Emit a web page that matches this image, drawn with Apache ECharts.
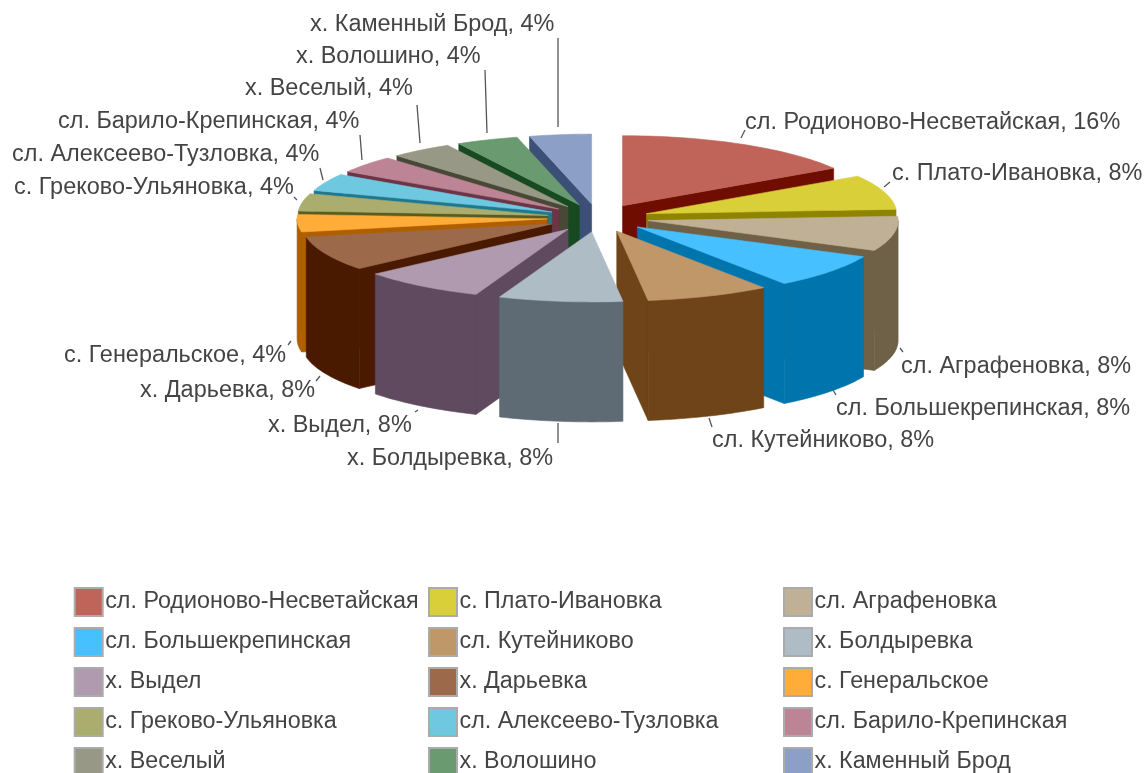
<!DOCTYPE html>
<html>
<head>
<meta charset="utf-8">
<style>html,body{margin:0;padding:0;background:#fff;overflow:hidden}#c{width:1145px;height:773px}</style>
<script src="https://cdn.jsdelivr.net/npm/echarts@6/dist/echarts.min.js"></script>
</head>
<body>
<div id="c"></div>
<script>
// --- data ---
const categories = ['сл. Родионово-Несветайская','с. Плато-Ивановка','сл. Аграфеновка','сл. Большекрепинская','сл. Кутейниково','х. Болдыревка','х. Выдел','х. Дарьевка','с. Генеральское','с. Греково-Ульяновка','сл. Алексеево-Тузловка','сл. Барило-Крепинская','х. Веселый','х. Волошино','х. Каменный Брод'];
const shares = [16,8,8,8,8,8,8,8,4,4,4,4,4,4,4];
// --- styles ---
const topColors  = ['#C0645A','#D9CF38','#BFB096','#47C0FF','#C09768','#AEBCC5','#B09AB0','#9C6A4A','#FFAC38','#ABAD6E','#6DC8E0','#BC8494','#989886','#6A9A70','#8C9FC6'];
const sideColors = ['#6E0D00','#8F8400','#6E6147','#0075AD','#6E4418','#5E6B74','#5F4A5F','#4A1A00','#AF5F00','#5A5C1E','#1D7890','#6C3444','#484836','#174A20','#3C4F76'];
// label placement: [text x, text y, leader x1, y1, x2, y2]
const labelPlacement = [
 [745,122.5,745,130,741,138],[892,173.5,890,182,884,187],[901,366.5,903,352,900,348],[836,408.5,836,395,833,390],
 [712,441,712,427,709,418],[347,459,558,443,558,423],[268,426,418,410,415,412],[140,390.5,316,381,320,376],
 [64,356,288,345,291,341],[14,188,294,197,297,200],[12,155,320,168,323,180],[58,122,360,135,362,160],
 [245,89,417,105,420,143],[296,57,485,70,487,133],[310,25,558,38,558,127]
];
const CX=598, CY=218, RX=250, RY=70, EX=51, EY=14, DEPTH=120;
const FONT='"Liberation Sans", Arial, sans-serif';
const total = shares.reduce((a,b)=>a+b,0);
const cumulative = []; shares.reduce((a,b,i)=>(cumulative[i]=a,a+b),0);
const rad = d=>d*Math.PI/180;

function makeRender(i){
  return function(params, api){
    const span = api.value(0)/total*360;
    const t0 = cumulative[i]/total*360, t1 = t0+span, mid = rad(t0+span/2);
    const ax = CX+EX*Math.sin(mid), ay = CY-EY*Math.cos(mid);
    const pt = (deg,dz)=>[ax+RX*Math.sin(rad(deg)), ay-RY*Math.cos(rad(deg))+(dz||0)];
    const arc = (a,b,dz)=>{const n=Math.max(2,Math.ceil((b-a)/1.5)),p=[];for(let k=0;k<=n;k++)p.push(pt(a+(b-a)*k/n,dz));return p;};
    const poly=(points,fill)=>({type:'polygon',shape:{points},style:{fill,stroke:fill,lineWidth:0.6}});
    const kids=[];
    const side=sideColors[i];
    // cut faces that face the viewer
    if(Math.sin(rad(t0))<0) kids.push(poly([[ax,ay],pt(t0),pt(t0,DEPTH),[ax,ay+DEPTH]],side));
    if(Math.sin(rad(t1))>0) kids.push(poly([[ax,ay],pt(t1),pt(t1,DEPTH),[ax,ay+DEPTH]],side));
    // outer wall, front-facing part only
    const wa=Math.max(t0,90), wb=Math.min(t1,270);
    if(wb>wa) kids.push(poly(arc(wa,wb,0).concat(arc(wa,wb,DEPTH).reverse()),side));
    // top face
    kids.push(poly([[ax,ay]].concat(arc(t0,t1,0)),topColors[i]));
    // leader + label
    const L=labelPlacement[i];
    kids.push({type:'line',shape:{x1:L[2],y1:L[3],x2:L[4],y2:L[5]},style:{stroke:'#555',lineWidth:1.3}});
    kids.push({type:'text',x:L[0],y:L[1],style:{text:categories[i]+', '+api.value(0)+'%',fill:'#444',font:'23.45px '+FONT,textAlign:'left',textVerticalAlign:'middle'}});
    return {type:'group',children:kids};
  };
}
// back-to-front stacking rank
const order = categories.map((_,i)=>i).sort((a,b)=>{
  const m=i=>rad((cumulative[i]+shares[i]/2)/total*360);
  return -Math.cos(m(a))+Math.cos(m(b));
});
const series = categories.map((name,i)=>({
  type:'custom',name,coordinateSystem:'none',silent:true,z:2+order.indexOf(i),
  itemStyle:{color:topColors[i]},data:[[shares[i]]],renderItem:makeRender(i)
}));
const columnLeft=[73.7,428,783];
const legend=columnLeft.map((left,c)=>({
  orient:'vertical',left,top:587,height:230,padding:0,itemWidth:28,itemHeight:28,itemGap:10,icon:'rect',selectedMode:false,
  itemStyle:{borderColor:'#ABABAB',borderWidth:2},
  textStyle:{fontFamily:FONT,fontSize:23.3,color:'#444',padding:[0,0,0,-2.5]},
  data:categories.filter((_,i)=>i%3===c)
}));
const chart=echarts.init(document.getElementById('c'),null,{renderer:'canvas'});
chart.setOption({animation:false,backgroundColor:'#fff',legend,series});
</script>
</body>
</html>
